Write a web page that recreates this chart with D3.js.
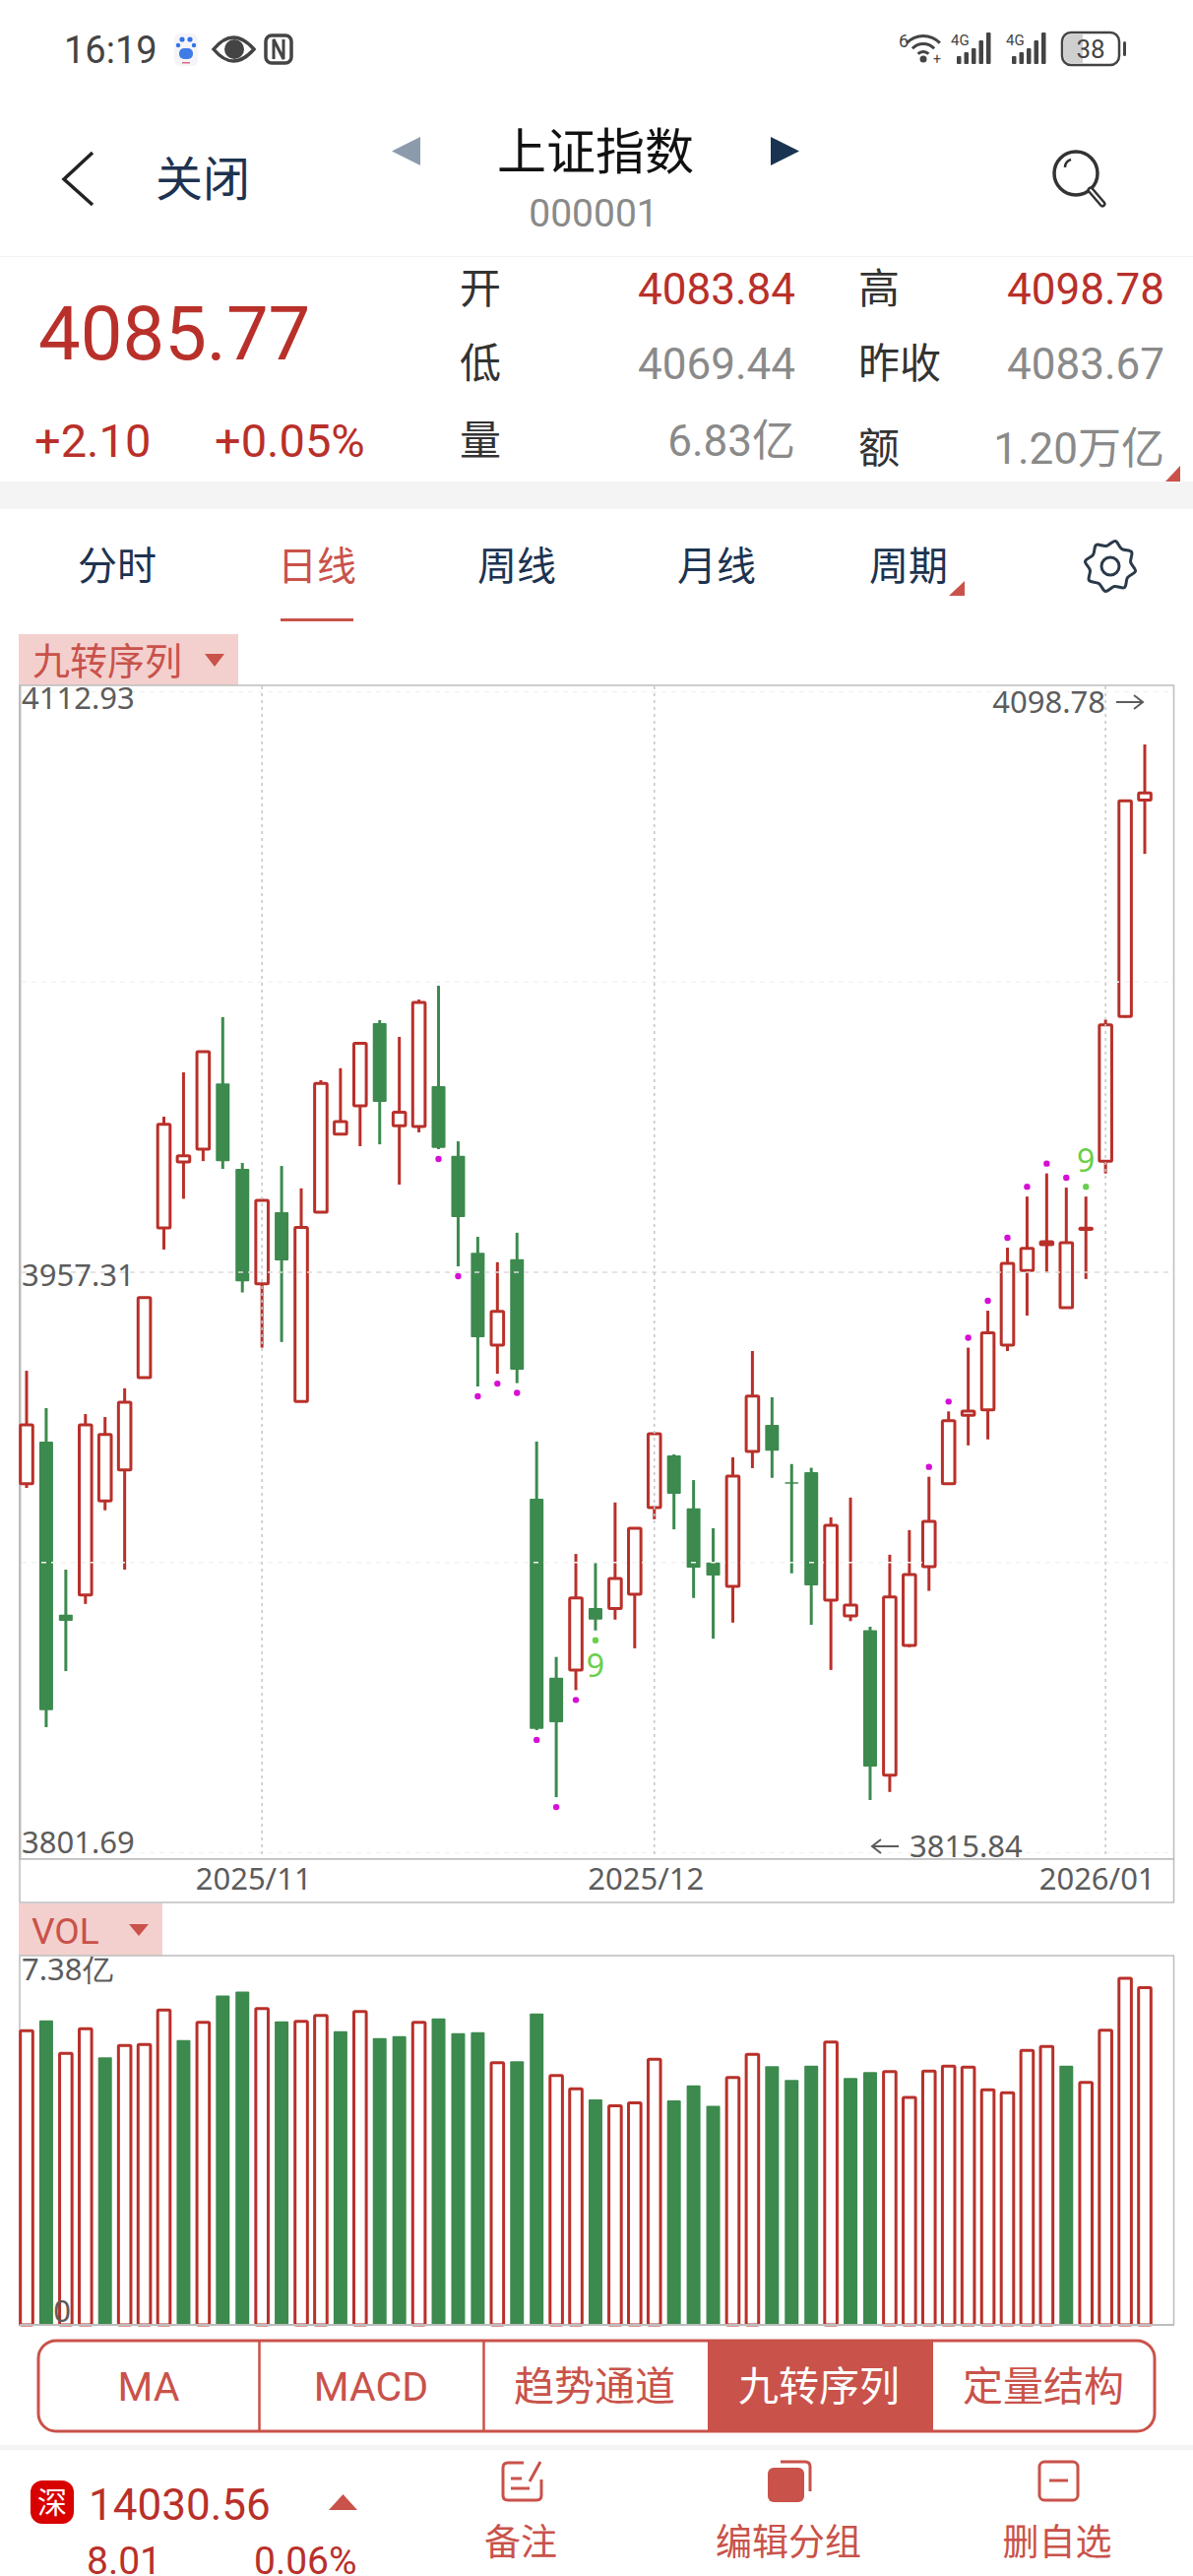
<!DOCTYPE html>
<html>
<head>
<meta charset="utf-8">
<script src="https://cdn.jsdelivr.net/npm/d3@7/dist/d3.min.js"></script>
<style>
  html, body { margin: 0; padding: 0; background: #fff; overflow: hidden; }
  svg { display: block; }
  text { font-family: Roboto, "Noto Sans CJK SC", sans-serif; }
  .cn { font-family: "Noto Sans CJK SC", sans-serif; }
  .chart_label text, .chart_label { font-family: "Noto Sans", sans-serif; }
</style>
</head>
<body>
<svg id="page" width="1212" height="2616"></svg>
<script>
// daily candles
var opens = [3900.6,3911.9,3865.5,3870.8,3896.0,3904.3,3929.1,3969.2,3986.9,3990.3,4007.9,3985.0,3954.2,3973.4,3922.7,3973.4,3994.3,4001.9,4024.1,3996.6,3996.4,4007.2,3988.5,3962.5,3937.8,3960.8,3896.6,3848.6,3850.7,3867.3,3867.2,3871.0,3894.2,3908.2,3894.0,3879.5,3873.1,3909.3,3916.4,3901.0,3903.7,3869.4,3865.2,3861.4,3822.5,3857.3,3878.4,3900.6,3919.0,3920.4,3937.8,3957.8,3964.7,3947.8,3968.8,3987.1,4025.9,4083.84];
var closes = [3916.4,3839.9,3863.9,3916.4,3913.8,3922.5,3950.5,3997.0,3988.5,4016.4,3987.1,3954.9,3976.6,3960.5,3969.3,4007.9,3997.7,4018.7,4003.0,4000.2,4029.6,3990.6,3972.1,3939.9,3946.8,3931.2,3834.9,3836.7,3870.0,3864.2,3875.2,3888.7,3914.0,3897.9,3878.1,3876.0,3902.7,3924.1,3909.5,3900.6,3873.4,3889.5,3868.1,3824.8,3870.3,3876.3,3890.5,3917.5,3920.1,3941.1,3959.7,3963.7,3965.5,3965.2,3969.1,4023.6,4083.67,4085.77];
var highs = [3930.9,3920.9,3877.6,3919.3,3918.5,3926.2,3950.5,3999.0,4010.9,4016.4,4025.7,3986.6,3977.0,3985.8,3979.8,4008.8,4012.0,4018.7,4024.9,4020.4,4030.4,4034.1,3992.4,3966.8,3960.0,3967.9,3911.9,3854.2,3881.8,3879.7,3895.6,3888.7,3914.0,3908.5,3901.6,3888.7,3907.7,3936.2,3923.8,3905.9,3904.9,3891.6,3896.9,3862.3,3881.6,3888.2,3902.5,3920.0,3937.1,3947.0,3963.9,3977.6,3983.8,3980.0,3977.6,4025.1,4083.67,4098.78];
var lows = [3899.5,3835.4,3850.4,3868.4,3893.5,3877.6,3929.1,3963.4,3977.0,3987.1,3985.0,3951.9,3937.1,3938.6,3922.7,3973.4,3994.3,3991.1,3991.6,3980.8,3994.8,3990.3,3958.9,3926.7,3930.1,3927.6,3834.6,3816.6,3845.3,3861.3,3864.2,3856.5,3891.1,3888.4,3870.0,3859.1,3863.4,3904.8,3902.2,3876.6,3862.8,3850.7,3863.8,3815.84,3818.0,3856.8,3871.9,3900.6,3910.9,3912.5,3936.2,3945.7,3957.2,3947.8,3955.5,3983.8,4025.5,4069.44];
var volumes = [5.96,6.17,5.50,6.00,5.42,5.66,5.68,6.38,5.77,6.13,6.67,6.75,6.41,6.15,6.15,6.27,5.95,6.35,5.81,5.85,6.13,6.21,5.91,5.93,5.31,5.34,6.31,5.05,4.78,4.57,4.44,4.50,5.38,4.55,4.85,4.44,5.01,5.48,5.24,4.96,5.25,5.73,5.00,5.12,5.13,4.61,5.14,5.24,5.22,4.76,4.70,5.56,5.64,5.25,4.91,5.97,7.02,6.83];

// nine-turn markers (candle index)
var dots_below = [21,22,23,24,25,26,27,28];
var dots_above = [46,47,48,49,50,51,52,53];
var nine_below = [29];
var nine_above = [54];

// axis labels
var price_ticks = [3801.69, 3957.31, 4112.93];
var grid_prices = [3801.69, 3879.50, 3957.31, 4035.12, 4112.93];
var month_ticks = [12, 32, 55];
var month_labels = ["2025/11", "2025/12", "2026/01"];
var volume_ticks = [0, 7.38];

// quote panel
var quote_labels = ["开", "低", "量", "高", "昨收", "额"];
var quote_values = ["4083.84", "4069.44", "6.83亿", "4098.78", "4083.67", "1.20万亿"];
var period_tabs = ["分时", "日线", "周线", "月线", "周期"];
var indicator_tabs = ["MA", "MACD", "趋势通道", "九转序列", "定量结构"];
var action_labels = ["备注", "编辑分组", "删自选"];

var red = "#b9302a";
var soft_red = "#c9524a";
var green = "#3c8a4e";
var navy = "#1d3350";
var grey = "#8a8a8a";

var svg = d3.select("#page");

function put_text(parent, x, y, str, size, color, anchor, cls)
{
  return parent.append("text")
    .attr("x", x)
    .attr("y", y)
    .attr("dy", "0.36em")
    .attr("font-size", size)
    .attr("fill", color)
    .attr("text-anchor", anchor || "start")
    .attr("class", cls || null)
    .text(str);
}

function put_triangle(parent, points, color)
{
  parent.append("polygon").attr("points", points).attr("fill", color);
}

function build_status_bar()
{
  let g = svg.append("g");
  put_text(g, 65, 50, "16:19", 38, "#444");

  // paw
  g.append("rect").attr("x", 177).attr("y", 34).attr("width", 24).attr("height", 33).attr("rx", 6).attr("fill", "#f6f4f7");
  [[185, 40, 2.6], [193, 40, 2.6], [181, 46, 2.2], [197, 46, 2.2]].forEach(function (p)
  {
    g.append("circle").attr("cx", p[0]).attr("cy", p[1]).attr("r", p[2]).attr("fill", "#3373e8");
  });
  g.append("rect").attr("x", 182).attr("y", 49).attr("width", 14).attr("height", 11).attr("rx", 5).attr("fill", "#3f7ce8");
  g.append("rect").attr("x", 185).attr("y", 63).attr("width", 8).attr("height", 1.5).attr("fill", "#d86a8a");

  // eye
  g.append("path").attr("d", "M217 50 Q237 26 258 50 Q237 74 217 50 Z").attr("fill", "none").attr("stroke", "#444").attr("stroke-width", 3.5);
  g.append("circle").attr("cx", 238).attr("cy", 50).attr("r", 10).attr("fill", "#444");

  // nfc
  g.append("rect").attr("x", 270).attr("y", 36).attr("width", 26).attr("height", 28).attr("rx", 6).attr("fill", "none").attr("stroke", "#444").attr("stroke-width", 3.5);
  g.append("path").attr("d", "M278 60 V40 L288 60 V40").attr("fill", "none").attr("stroke", "#444").attr("stroke-width", 3);

  // wifi
  put_text(g, 913, 42, "6", 18, "#444");
  [[24, 0.5], [16, 0.5], [8, 0.5]].forEach(function (a)
  {
    g.append("path")
      .attr("d", d3.arc()({innerRadius: a[0] - 2, outerRadius: a[0] + 1, startAngle: -0.8, endAngle: 0.8}))
      .attr("transform", "translate(938,60)")
      .attr("fill", "#444");
  });
  g.append("circle").attr("cx", 938).attr("cy", 60).attr("r", 3.5).attr("fill", "#444");
  put_text(g, 948, 60, "+", 14, "#444");

  // signal bars, two sims
  [966, 1022].forEach(function (x0)
  {
    put_text(g, x0, 41, "4G", 15, "#444");
    [8, 12, 16, 24, 32].forEach(function (h, i)
    {
      g.append("rect").attr("x", x0 + 6 + i * 7.5).attr("y", 65 - h).attr("width", 4.5).attr("height", h).attr("rx", 1).attr("fill", "#444");
    });
  });

  // battery
  g.append("rect").attr("x", 1079).attr("y", 33).attr("width", 58).attr("height", 33).attr("rx", 9).attr("fill", "none").attr("stroke", "#444").attr("stroke-width", 2.5);
  g.append("path").attr("d", "M1088 35 H1100 V64 H1088 Q1081 64 1081 57 V42 Q1081 35 1088 35 Z").attr("fill", "#cfcfcf");
  put_text(g, 1108, 50, "38", 26, "#444", "middle");
  g.append("rect").attr("x", 1141).attr("y", 42).attr("width", 3).attr("height", 15).attr("rx", 1.5).attr("fill", "#444");
}

function build_header()
{
  let g = svg.append("g");
  g.append("path").attr("d", "M94 155 L65 182 L94 208").attr("fill", "none").attr("stroke", "#222").attr("stroke-width", 3.5);
  put_text(g, 206, 182, "关闭", 48, navy, "middle", "cn");
  put_triangle(g, "427,139 427,168 398,153.5", "#8b9bab");
  put_text(g, 605, 154, "上证指数", 50, "#111", "middle", "cn");
  put_triangle(g, "783,139 783,168 812,153.5", "#1a3350");
  put_text(g, 603, 216, "000001", 39, grey, "middle");

  // search
  g.append("ellipse").attr("cx", 1093).attr("cy", 176).attr("rx", 22).attr("ry", 22).attr("fill", "none").attr("stroke", "#333").attr("stroke-width", 3.5);
  g.append("path").attr("d", "M1082 170 Q1082 164 1088 162").attr("fill", "none").attr("stroke", "#333").attr("stroke-width", 2.5);
  g.append("path").attr("d", "M1108 193 L1120 207").attr("stroke", "#333").attr("stroke-width", 7).attr("stroke-linecap", "round");
  g.append("path").attr("d", "M1108 193 L1120 207").attr("stroke", "#fff").attr("stroke-width", 2).attr("stroke-linecap", "round");

  g.append("rect").attr("x", 0).attr("y", 260).attr("width", 1212).attr("height", 1).attr("fill", "#f2f2f2");
}

function build_quote()
{
  let g = svg.append("g");
  put_text(g, 39, 338, "4085.77", 76, red);
  put_text(g, 35, 447, "+2.10", 47, red);
  put_text(g, 218, 447, "+0.05%", 47, red);

  let rows = [293, 369, 447];
  let rows_right = [293, 369, 455];
  for (let i = 0; i < 3; i++)
  {
    put_text(g, 467, rows[i], quote_labels[i], 42, "#333", "start", "cn");
    put_text(g, 808, rows[i], quote_values[i], 44, i == 0 ? red : grey, "end");
    put_text(g, 872, rows_right[i], quote_labels[i + 3], 42, "#333", "start", "cn");
    put_text(g, 1183, rows_right[i], quote_values[i + 3], 44, i == 0 ? red : grey, "end");
  }
  put_triangle(g, "1199,473 1199,489 1184,489", soft_red);
  g.append("rect").attr("x", 0).attr("y", 489).attr("width", 1212).attr("height", 28).attr("fill", "#f4f4f4");
}

function build_period_tabs()
{
  let g = svg.append("g");
  let xs = [119, 322, 525, 728, 923];
  period_tabs.forEach(function (name, i)
  {
    put_text(g, xs[i], 575, name, 40, i == 1 ? soft_red : navy, "middle", "cn");
  });
  g.append("rect").attr("x", 285).attr("y", 628).attr("width", 74).attr("height", 3).attr("fill", soft_red);
  put_triangle(g, "980,590 980,605 964,605", soft_red);

  // gear
  let teeth = d3.range(16).map(function (i)
  {
    let r = i % 2 == 0 ? 26 : 21;
    let a = (i + 0.5) * Math.PI / 8;
    return [1128 + r * Math.cos(a), 575 + r * Math.sin(a)];
  });
  g.append("path")
    .attr("d", d3.line().curve(d3.curveCatmullRomClosed)(teeth))
    .attr("fill", "none").attr("stroke", "#2b3a4a").attr("stroke-width", 3);
  g.append("circle").attr("cx", 1128).attr("cy", 575).attr("r", 9).attr("fill", "none").attr("stroke", "#2b3a4a").attr("stroke-width", 3);

  // indicator tag over the price chart
  g.append("rect").attr("x", 19).attr("y", 644).attr("width", 223).attr("height", 52).attr("fill", "#f3d0ce");
  put_text(g, 33, 671, "九转序列", 38, soft_red, "start", "cn");
  put_triangle(g, "208,664 228,664 218,677", soft_red);
}

function put_arrow(parent, x1, x2, y)
{
  let dir = x2 > x1 ? -1 : 1;
  parent.append("path")
    .attr("d", "M" + x1 + " " + y + " H" + x2 + " M" + (x2 + dir * 9) + " " + (y - 7) + " L" + x2 + " " + y + " L" + (x2 + dir * 9) + " " + (y + 7))
    .attr("fill", "none")
    .attr("stroke", "#5c5c5c")
    .attr("stroke-width", 2);
}

function build_price_chart()
{
  let x = d3.scaleLinear().domain([0, opens.length - 1]).range([27, 1163]);
  let y = d3.scaleLinear().domain([price_ticks[0], price_ticks[2]]).range([1881.6, 702.4]);
  let idx = d3.range(opens.length);
  let g = svg.append("g");

  g.append("rect").attr("x", 20).attr("y", 696).attr("width", 1172.5).attr("height", 1192)
    .attr("fill", "#fff").attr("stroke", "#bdbdbd").attr("stroke-width", 1.5);
  g.append("rect").attr("x", 20).attr("y", 1888).attr("width", 1172.5).attr("height", 44)
    .attr("fill", "#fff").attr("stroke", "#bdbdbd").attr("stroke-width", 1.5);
  g.append("rect").attr("x", 19).attr("y", 696).attr("width", 2.5).attr("height", 1192).attr("fill", "#bdbdbd");

  // wicks
  g.selectAll(".wick").data(idx).enter().append("line")
    .attr("class", "wick")
    .attr("x1", function (i) { return x(i); })
    .attr("x2", function (i) { return x(i); })
    .attr("y1", function (i) { return y(highs[i]); })
    .attr("y2", function (i) { return y(lows[i]); })
    .attr("stroke", function (i) { return closes[i] >= opens[i] ? red : green; })
    .attr("stroke-width", 3);

  // bodies
  g.selectAll(".body").data(idx).enter().append("rect")
    .attr("class", "body")
    .attr("x", function (i) { return x(i) - (closes[i] >= opens[i] ? 6.3 : 7); })
    .attr("width", function (i) { return closes[i] >= opens[i] ? 12.6 : 14; })
    .attr("y", function (i) { return y(Math.max(opens[i], closes[i])); })
    .attr("height", function (i) { return Math.max(1, Math.abs(y(opens[i]) - y(closes[i]))); })
    .attr("rx", 1)
    .attr("fill", function (i) { return closes[i] >= opens[i] ? "#fff" : green; })
    .attr("stroke", function (i) { return closes[i] >= opens[i] ? red : "none"; })
    .attr("stroke-width", 3);

  // nine-turn dots and the 9 labels
  g.selectAll(".below").data(dots_below).enter().append("circle")
    .attr("class", "below")
    .attr("cx", function (i) { return x(i); })
    .attr("cy", function (i) { return y(lows[i]) + 10; })
    .attr("r", 3.2)
    .attr("fill", "#d60fd6");
  g.selectAll(".above").data(dots_above).enter().append("circle")
    .attr("class", "above")
    .attr("cx", function (i) { return x(i); })
    .attr("cy", function (i) { return y(highs[i]) - 10; })
    .attr("r", 3.2)
    .attr("fill", "#d60fd6");
  nine_below.forEach(function (i)
  {
    g.append("circle").attr("cx", x(i)).attr("cy", y(lows[i]) + 10).attr("r", 3.2).attr("fill", "#69cf4a");
    put_text(g, x(i), y(lows[i]) + 36, "9", 32, "#69cf4a", "middle", "chart_label");
  });
  nine_above.forEach(function (i)
  {
    g.append("circle").attr("cx", x(i)).attr("cy", y(highs[i]) - 10).attr("r", 3.2).attr("fill", "#69cf4a");
    put_text(g, x(i), y(highs[i]) - 37, "9", 32, "#69cf4a", "middle", "chart_label");
  });

  // grid goes over the candles
  g.selectAll(".hgrid").data(grid_prices).enter().append("line")
    .attr("class", "hgrid")
    .attr("x1", 22).attr("x2", 1192)
    .attr("y1", function (d) { return y(d); })
    .attr("y2", function (d) { return y(d); })
    .attr("stroke", function (d) { return d == price_ticks[1] ? "#dcdcdc" : "#f3f3f3"; })
    .attr("stroke-width", 1.5)
    .attr("stroke-dasharray", "5 5");
  g.selectAll(".vgrid").data(month_ticks).enter().append("line")
    .attr("class", "vgrid")
    .attr("x1", function (i) { return x(i); })
    .attr("x2", function (i) { return x(i); })
    .attr("y1", 697).attr("y2", 1888)
    .attr("stroke", "#c6c6c6")
    .attr("stroke-width", 1.5)
    .attr("stroke-dasharray", "3 4");

  // price labels sit inside the plot
  let price_axis = d3.axisRight(y).tickValues(price_ticks).tickSize(0).tickPadding(0).tickFormat(d3.format(".2f"));
  let nudge = [-10, 4, 7];
  let price_g = g.append("g").attr("class", "chart_label").attr("transform", "translate(22,0)").call(price_axis);
  price_g.select(".domain").remove();
  price_g.selectAll("text")
    .attr("font-size", 31).attr("fill", "#5c5c5c")
    .attr("y", function (d, i) { return nudge[i]; });

  // month labels
  let month_axis = d3.axisBottom(x).tickValues(month_ticks).tickSize(0).tickPadding(0)
    .tickFormat(function (d, i) { return month_labels[i]; });
  let month_g = g.append("g").attr("class", "chart_label").attr("transform", "translate(0,1897)").call(month_axis);
  month_g.select(".domain").remove();
  month_g.selectAll("text").attr("font-size", 31).attr("fill", "#5c5c5c").attr("x", -9);

  // high and low callouts
  put_text(g, 1123, 713, d3.format(".2f")(d3.max(highs)), 31, "#5c5c5c", "end", "chart_label");
  put_arrow(g, 1134, 1161, 713);
  put_text(g, 924, 1875, d3.format(".2f")(d3.min(lows)), 31, "#5c5c5c", "start", "chart_label");
  put_arrow(g, 913, 886, 1875);
}

function build_volume_chart()
{
  let x = d3.scaleLinear().domain([0, volumes.length - 1]).range([27, 1163]);
  let y = d3.scaleLinear().domain(volume_ticks).range([2361, 1991]);
  let idx = d3.range(volumes.length);
  let g = svg.append("g");

  g.append("rect").attr("x", 19).attr("y", 1933).attr("width", 146).attr("height", 53).attr("fill", "#f3d0ce");
  put_text(g, 32, 1961, "VOL", 37, soft_red, "start");
  put_triangle(g, "131,1954 151,1954 141,1966", soft_red);

  g.append("rect").attr("x", 20).attr("y", 1986).attr("width", 1172.5).attr("height", 375)
    .attr("fill", "#fff").attr("stroke", "#bdbdbd").attr("stroke-width", 1.5);

  function is_up(i)
  {
    return i == 0 || closes[i] >= closes[i - 1];
  }

  g.selectAll(".vol").data(idx).enter().append("rect")
    .attr("class", "vol")
    .attr("x", function (i) { return x(i) - (is_up(i) ? 6.3 : 7); })
    .attr("width", function (i) { return is_up(i) ? 12.6 : 14; })
    .attr("y", function (i) { return y(volumes[i]); })
    .attr("height", function (i) { return y(0) - y(volumes[i]); })
    .attr("rx", 1)
    .attr("fill", function (i) { return is_up(i) ? "#fff" : green; })
    .attr("stroke", function (i) { return is_up(i) ? red : "none"; })
    .attr("stroke-width", 3);

  g.append("rect").attr("x", 20).attr("y", 2360).attr("width", 1172.5).attr("height", 2).attr("fill", "#bdbdbd");

  put_text(g, 22, 2000, "7.38亿", 31, "#5c5c5c", "start", "chart_label");
  put_text(g, 63, 2347, "0", 31, "#5c5c5c", "middle", "chart_label");
}

function build_indicator_tabs()
{
  let g = svg.append("g");
  let xs = [151, 377, 604, 832, 1060];
  g.append("rect").attr("x", 39).attr("y", 2377).attr("width", 1134).attr("height", 92).attr("rx", 18)
    .attr("fill", "#fff").attr("stroke", soft_red).attr("stroke-width", 3);
  g.append("rect").attr("x", 719).attr("y", 2377).attr("width", 229).attr("height", 92).attr("fill", soft_red);
  [263.5, 491.5].forEach(function (d)
  {
    g.append("line").attr("x1", d).attr("x2", d).attr("y1", 2377).attr("y2", 2469).attr("stroke", soft_red).attr("stroke-width", 2.5);
  });
  indicator_tabs.forEach(function (name, i)
  {
    put_text(g, xs[i], 2423, name, 41, i == 3 ? "#fff" : soft_red, "middle", i < 2 ? null : "cn");
  });
  g.append("rect").attr("x", 0).attr("y", 2483).attr("width", 1212).attr("height", 5).attr("fill", "#f4f4f4");
}

function build_footer()
{
  let g = svg.append("g");
  g.append("rect").attr("x", 31).attr("y", 2519).attr("width", 44).attr("height", 44).attr("rx", 12).attr("fill", "#d90000");
  put_text(g, 53, 2541, "深", 30, "#fff", "middle", "cn");
  put_text(g, 90, 2543, "14030.56", 44, red);
  put_triangle(g, "348.5,2533 363,2549 334,2549", soft_red);
  put_text(g, 88, 2600, "8.01", 39, red);
  put_text(g, 258, 2600, "0.06%", 39, red);

  let xs = [529, 801, 1074];
  action_labels.forEach(function (name, i)
  {
    put_text(g, xs[i], 2582, name, 37, soft_red, "middle", "cn");
  });

  // notes
  g.append("path").attr("d", "M532 2501 H516 Q511 2501 511 2506 V2534 Q511 2539 516 2539 H545 Q550 2539 550 2534 V2518")
    .attr("fill", "none").attr("stroke", soft_red).attr("stroke-width", 3);
  g.append("path").attr("d", "M538 2520 L549 2500 M519 2517 H530 M519 2527 H538")
    .attr("fill", "none").attr("stroke", soft_red).attr("stroke-width", 3);

  // edit group
  g.append("path").attr("d", "M793 2500 H818 Q823 2500 823 2505 V2530").attr("fill", "none").attr("stroke", soft_red).attr("stroke-width", 3);
  g.append("rect").attr("x", 780).attr("y", 2506).attr("width", 37).attr("height", 35).attr("rx", 6).attr("fill", soft_red);

  // remove
  g.append("rect").attr("x", 1056).attr("y", 2500).attr("width", 39).attr("height", 39).attr("rx", 5).attr("fill", "none").attr("stroke", soft_red).attr("stroke-width", 3);
  g.append("line").attr("x1", 1066).attr("x2", 1085).attr("y1", 2519).attr("y2", 2519).attr("stroke", soft_red).attr("stroke-width", 3);
}

function init()
{
  build_status_bar();
  build_header();
  build_quote();
  build_period_tabs();
  build_price_chart();
  build_volume_chart();
  build_indicator_tabs();
  build_footer();
}

init();
</script>
</body>
</html>
